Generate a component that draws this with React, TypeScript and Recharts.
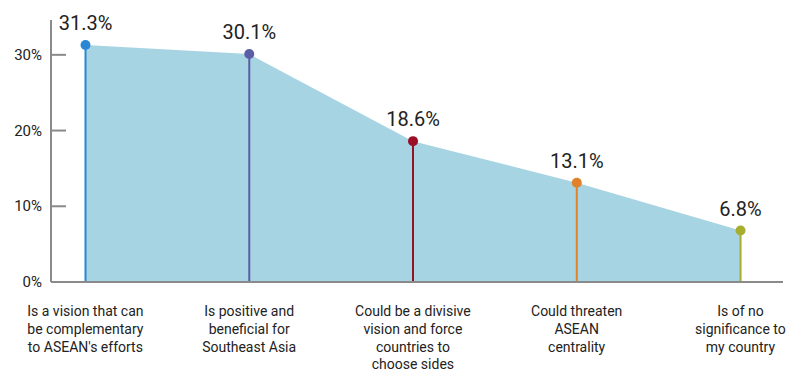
import React from "react";
import { ComposedChart, Area, Bar, XAxis, YAxis, LabelList } from "recharts";

const categories: string[][] = [
  ["Is a vision that can", "be complementary", "to ASEAN's efforts"],
  ["Is positive and", "beneficial for", "Southeast Asia"],
  ["Could be a divisive", "vision and force", "countries to", "choose sides"],
  ["Could threaten", "ASEAN", "centrality"],
  ["Is of no", "significance to", "my country"],
];
const values: number[] = [31.3, 30.1, 18.6, 13.1, 6.8];
const pointColors: string[] = ["#2b87d3", "#5b5ea6", "#9a0e26", "#e0822b", "#a7ad2e"];
const yTicks: number[] = [0, 10, 20, 30];

const data = values.map((v, i) => ({ idx: i, value: v }));

const FONT = "Roboto, 'Noto Sans', sans-serif";

const XTick = (props: any) => {
  const { x, y, payload } = props;
  const lines = categories[payload.value] || [];
  return (
    <text x={x} y={y} textAnchor="middle" fill="#222" fontSize={14} fontFamily={FONT}>
      {lines.map((l, i) => (
        <tspan key={i} x={x} dy={i === 0 ? 34 : 17.8}>
          {l}
        </tspan>
      ))}
    </text>
  );
};

const YTick = (props: any) => {
  const { x, y, payload } = props;
  return (
    <g>
      {payload.value !== 0 && (
        <line x1={x + 10} x2={x + 24} y1={y} y2={y} stroke="#8a8a8a" strokeWidth={2} />
      )}
      <text x={x} y={y} dy={5} textAnchor="end" fill="#222" fontSize={15} fontFamily={FONT}>
        {payload.value}%
      </text>
    </g>
  );
};

const Stem = (props: any) => {
  const { x, y, width, height, index } = props;
  const cx = x + width / 2;
  const c = pointColors[index];
  return (
    <g>
      <line x1={cx} x2={cx} y1={y} y2={y + height} stroke={c} strokeWidth={2} />
      <circle cx={cx} cy={y} r={5} fill={c} />
    </g>
  );
};

export default function App() {
  return (
    <div style={{ position: "absolute", left: 0, top: 0, width: 798, height: 372, background: "#fff" }}>
      <ComposedChart
        width={798}
        height={372}
        data={data}
        margin={{ top: 20, right: 15, bottom: 0, left: 0 }}
      >
        <XAxis
          dataKey="idx"
          type="number"
          domain={[-0.21, 4.26]}
          ticks={[0, 1, 2, 3, 4]}
          tick={<XTick />}
          tickLine={false}
          tickSize={0}
          tickMargin={0}
          height={90}
          axisLine={{ stroke: "#8a8a8a", strokeWidth: 2 }}
          interval={0}
        />
        <YAxis
          type="number"
          domain={[0, 34.6]}
          ticks={yTicks}
          width={51}
          tick={<YTick />}
          tickLine={false}
          tickSize={0}
          tickMargin={9}
          axisLine={{ stroke: "#8a8a8a", strokeWidth: 2 }}
        />
        <Area
          type="linear"
          dataKey="value"
          fill="#a7d4e2"
          fillOpacity={1}
          stroke="none"
          dot={false}
          activeDot={false}
          isAnimationActive={false}
        />
        <Bar dataKey="value" barSize={2} shape={<Stem />} isAnimationActive={false}>
          <LabelList
            dataKey="value"
            position="top"
            offset={15}
            formatter={(v: any) => `${v}%`}
            fill="#222"
            fontSize={20}
            fontFamily={FONT}
          />
        </Bar>
      </ComposedChart>
    </div>
  );
}
